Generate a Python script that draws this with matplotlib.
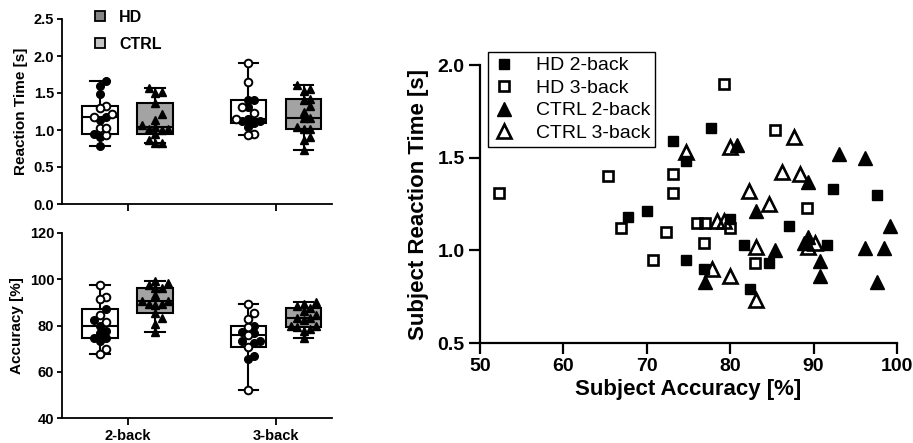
import numpy as np
import matplotlib
matplotlib.use('Agg')
import matplotlib.pyplot as plt
from matplotlib.lines import Line2D

plt.rcParams['font.family'] = ['Liberation Sans', 'DejaVu Sans']

# ---- data (accuracy in %, reaction time in s), one entry per subject ----
tasks = ['2-back', '3-back']

hd2_acc = [77.7, 73.1, 74.7, 70.0, 67.7, 80.0, 87.0, 81.6, 74.7, 84.6, 76.9, 82.4, 92.3, 97.6, 91.6]
hd2_rt = [1.66, 1.59, 1.48, 1.21, 1.18, 1.17, 1.13, 1.03, 0.95, 0.93, 0.90, 0.79, 1.33, 1.30, 1.03]
hd2_filled = [1, 1, 1, 0, 0, 1, 1, 0, 1, 0, 1, 1, 0, 0, 0]

hd3_acc = [52.3, 65.4, 66.9, 70.7, 72.3, 73.1, 73.1, 76.0, 77.0, 76.9, 80.0, 79.2, 85.4, 89.2, 83.0]
hd3_rt = [1.31, 1.40, 1.12, 0.95, 1.10, 1.41, 1.31, 1.15, 1.15, 1.04, 1.12, 1.90, 1.65, 1.23, 0.93]
hd3_filled = [0, 1, 1, 0, 1, 1, 1, 0, 1, 1, 1, 0, 0, 0, 0]

ctrl2_acc = [80.8, 93.1, 96.2, 89.3, 83.1, 99.2, 89.3, 85.4, 96.2, 98.4, 90.8, 90.8, 97.6, 77.0, 88.8]
ctrl2_rt = [1.57, 1.52, 1.50, 1.37, 1.21, 1.13, 1.07, 1.00, 1.01, 1.01, 0.94, 0.86, 0.83, 0.83, 1.04]

ctrl3_acc = [74.7, 80.0, 87.7, 86.2, 88.4, 82.3, 84.6, 78.4, 79.2, 83.1, 89.3, 90.2, 77.8, 80.0, 83.1]
ctrl3_rt = [1.53, 1.56, 1.61, 1.42, 1.41, 1.32, 1.25, 1.16, 1.16, 1.02, 1.02, 1.04, 0.90, 0.86, 0.73]

W, H = 913, 443
fig = plt.figure(figsize=(W / 100, H / 100), dpi=100)


def px_axes(left, top, right, bottom):
    return fig.add_axes([left / W, 1 - bottom / H, (right - left) / W, (bottom - top) / H])


def box_stats(vals):
    v = np.asarray(vals, float)
    q1, med, q3 = np.percentile(v, [25, 50, 75], method='weibull')
    return dict(med=med, q1=q1, q3=q3, whislo=v.min(), whishi=v.max(), fliers=[])


def swarm_x(ax, center, vals, dot_px, step=0.8):
    # simple beeswarm: spread points sideways so they do not overlap much
    vals = np.asarray(vals, float)
    t = ax.transData
    ypx = t.transform(np.column_stack([np.zeros_like(vals), vals]))[:, 1]
    xpx_unit = t.transform((1, 0))[0] - t.transform((0, 0))[0]
    offs = np.zeros(len(vals))
    placed = []
    for i in np.argsort(vals):
        for k in range(0, 12):
            cands = [0.0] if k == 0 else [k * dot_px * step, -k * dot_px * step]
            ok = None
            for c in cands:
                if all(np.hypot(c - px, ypx[i] - py) >= dot_px * step for px, py in placed):
                    ok = c
                    break
            if ok is not None:
                offs[i] = ok
                placed.append((ok, ypx[i]))
                break
    return center + offs / xpx_unit


def style_left(ax):
    for s in ['top', 'right']:
        ax.spines[s].set_visible(False)
    for s in ['left', 'bottom']:
        ax.spines[s].set_linewidth(1.3)
    ax.tick_params(axis='y', length=3.5, width=1.3, labelsize=10.5, pad=2)
    ax.tick_params(axis='x', length=5, width=1.3, labelsize=10.5, pad=3)
    for lab in ax.get_yticklabels() + ax.get_xticklabels():
        lab.set_fontweight('bold')


ax_rt = px_axes(62, 19, 332, 204)
ax_acc = px_axes(62, 233, 332, 418)

pos = [1, 2]
off = 0.186
bw = 0.24

panels = [
    (ax_rt, (hd2_rt, hd3_rt), (ctrl2_rt, ctrl3_rt), (0, 2.5), np.arange(0, 2.51, 0.5), 'Reaction Time [s]'),
    (ax_acc, (hd2_acc, hd3_acc), (ctrl2_acc, ctrl3_acc), (40, 120), np.arange(40, 121, 20), 'Accuracy [%]'),
]
filled_sets = (hd2_filled, hd3_filled)

for ax, hd_vals, ctrl_vals, ylim, yticks, ylabel in panels:
    kw = dict(widths=bw, patch_artist=True, showfliers=False, capwidths=bw * 0.55,
              manage_ticks=False,
              whiskerprops=dict(color='black', lw=1.5),
              capprops=dict(color='black', lw=1.5),
              medianprops=dict(color='black', lw=1.5))
    ax.bxp([box_stats(v) for v in hd_vals], positions=[p - off for p in pos],
           boxprops=dict(facecolor='white', edgecolor='black', lw=1.5), **kw)
    ax.bxp([box_stats(v) for v in ctrl_vals], positions=[p + off for p in pos],
           boxprops=dict(facecolor='#a3a3a3', edgecolor='black', lw=1.5), **kw)

    ax.set_xlim(0.557, 2.378)
    ax.set_ylim(*ylim)
    ax.set_yticks(yticks)
    if ylim[1] < 10:
        ax.set_yticklabels([f'{v:.1f}' for v in yticks])
    ax.set_xticks(pos)
    ax.set_ylabel(ylabel, fontsize=11, fontweight='bold', labelpad=4)

    for p, vals, fl in zip(pos, hd_vals, filled_sets):
        xs = swarm_x(ax, p - off, vals, 7.5)
        fl = np.asarray(fl, bool)
        v = np.asarray(vals)
        ax.plot(xs[fl], v[fl], 'o', ms=5.5, color='black', zorder=5)
        ax.plot(xs[~fl], v[~fl], 'o', ms=5.5, mfc='white', mec='black', mew=1.4, zorder=5)
    for p, vals in zip(pos, ctrl_vals):
        xs = swarm_x(ax, p + off, vals, 8.0)
        ax.plot(xs, vals, '^', ms=6, color='black', zorder=5)

    style_left(ax)

ax_rt.set_xticklabels(['', ''])
ax_acc.set_xticklabels(tasks, fontsize=10.5, fontweight='bold')

grp_handles = [
    Line2D([], [], marker='s', ls='none', ms=7, mfc='#858585', mec='black', mew=1.3),
    Line2D([], [], marker='s', ls='none', ms=7, mfc='#c4c4c4', mec='black', mew=1.3),
]
ax_rt.legend(grp_handles, ['HD', 'CTRL'], loc='upper left', bbox_to_anchor=(0.075, 1.085),
             frameon=False, prop=dict(size=11.5, weight='bold'), handletextpad=0.5,
             labelspacing=0.75, borderaxespad=0, handlelength=1.4)

# ---- right: accuracy vs reaction time ----
ax = px_axes(480, 65, 897, 343)
ax.plot(hd2_acc, hd2_rt, 's', ms=7.5, color='black', label='HD 2-back')
ax.plot(hd3_acc, hd3_rt, 's', ms=7.5, mfc='none', mec='black', mew=1.9, label='HD 3-back')
ax.plot(ctrl2_acc, ctrl2_rt, '^', ms=9.5, color='black', label='CTRL 2-back')
ax.plot(ctrl3_acc, ctrl3_rt, '^', ms=9.5, mfc='none', mec='black', mew=1.9, label='CTRL 3-back')
ax.set_xlim(50, 100)
ax.set_ylim(0.5, 2.0)
ax.set_xticks(np.arange(50, 101, 10))
ax.set_yticks([0.5, 1.0, 1.5, 2.0])
ax.set_yticklabels(['0.5', '1.0', '1.5', '2.0'])
for s in ['top', 'right']:
    ax.spines[s].set_visible(False)
for s in ['left', 'bottom']:
    ax.spines[s].set_linewidth(1.6)
ax.tick_params(length=8, width=1.6, labelsize=14, pad=3)
for lab in ax.get_yticklabels() + ax.get_xticklabels():
    lab.set_fontweight('bold')
ax.set_xlabel('Subject Accuracy [%]', fontsize=16, fontweight='bold', labelpad=3)
ax.set_ylabel('Subject Reaction Time [s]', fontsize=16, fontweight='bold', labelpad=6)
leg = ax.legend(loc='upper left', bbox_to_anchor=(0.019, 1.047), borderaxespad=0,
                fontsize=14, fancybox=False, edgecolor='black', framealpha=1,
                handletextpad=1.0, labelspacing=0.25, borderpad=0.25, handlelength=1.2)
leg.get_frame().set_linewidth(1.0)

fig.savefig('out.png', dpi=100)
